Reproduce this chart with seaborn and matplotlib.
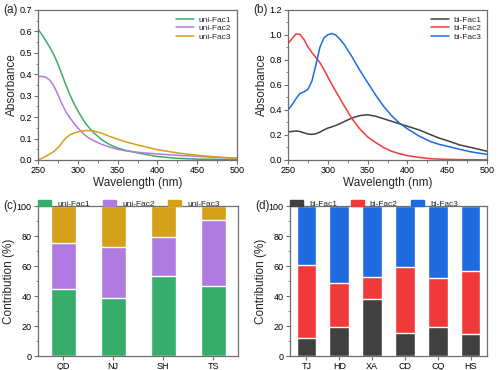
import numpy as np
import pandas as pd
import matplotlib
matplotlib.use("Agg")
import matplotlib.pyplot as plt
from matplotlib.ticker import MultipleLocator, AutoMinorLocator, FormatStrFormatter
import seaborn as sns

# ---- spectra (a) ----
wl_a = [250, 255, 260, 265, 270, 275, 280, 285, 290, 295, 300, 305, 310, 315, 320, 330, 340, 350, 360, 375, 400, 425, 450, 475, 500]
uni_fac1 = [0.61, 0.585, 0.555, 0.525, 0.49, 0.448, 0.40, 0.35, 0.305, 0.265, 0.23, 0.198, 0.17, 0.147, 0.127, 0.095, 0.072, 0.056, 0.045, 0.033, 0.016, 0.008, 0.004, 0.003, 0.002]
uni_fac2 = [0.39, 0.39, 0.386, 0.372, 0.345, 0.305, 0.262, 0.225, 0.197, 0.172, 0.15, 0.13, 0.113, 0.1, 0.09, 0.073, 0.06, 0.05, 0.043, 0.036, 0.028, 0.022, 0.017, 0.012, 0.008]
uni_fac3 = [0.0, 0.008, 0.018, 0.028, 0.04, 0.057, 0.08, 0.103, 0.117, 0.125, 0.131, 0.135, 0.137, 0.137, 0.135, 0.125, 0.11, 0.097, 0.085, 0.07, 0.048, 0.033, 0.022, 0.014, 0.008]

# ---- spectra (b) ----
wl_b = [250, 255, 260, 265, 270, 275, 280, 285, 290, 295, 300, 305, 310, 315, 320, 330, 340, 350, 360, 370, 380, 390, 400, 415, 430, 440, 450, 466, 480, 500]
bi_fac1 = [0.225, 0.228, 0.232, 0.228, 0.217, 0.208, 0.205, 0.21, 0.223, 0.24, 0.255, 0.265, 0.276, 0.29, 0.305, 0.335, 0.355, 0.362, 0.35, 0.33, 0.31, 0.29, 0.27, 0.24, 0.20, 0.175, 0.155, 0.12, 0.10, 0.07]
bi_fac2 = [0.93, 0.97, 1.008, 1.005, 0.965, 0.905, 0.86, 0.82, 0.78, 0.725, 0.665, 0.605, 0.55, 0.495, 0.44, 0.335, 0.25, 0.185, 0.14, 0.10, 0.07, 0.05, 0.035, 0.02, 0.01, 0.007, 0.005, 0.003, 0.002, 0.001]
bi_fac3 = [0.40, 0.44, 0.49, 0.532, 0.545, 0.565, 0.63, 0.76, 0.90, 0.975, 1.002, 1.012, 1.0, 0.968, 0.93, 0.83, 0.72, 0.62, 0.52, 0.43, 0.355, 0.295, 0.25, 0.19, 0.145, 0.125, 0.11, 0.085, 0.065, 0.045]

# ---- contributions (c) ----
sites_c = ["QD", "NJ", "SH", "TS"]
c_fac1 = [45.0, 38.8, 53.4, 47.0]
c_fac2 = [30.6, 33.9, 26.0, 43.7]
c_fac3 = [24.4, 27.3, 20.6, 9.3]

# ---- contributions (d) ----
sites_d = ["TJ", "HD", "XA", "CD", "CQ", "HS"]
d_fac1 = [11.8, 19.5, 37.9, 15.1, 19.5, 14.6]
d_fac2 = [48.7, 29.3, 14.9, 44.1, 32.6, 42.2]
d_fac3 = [39.5, 51.2, 47.2, 40.8, 47.9, 43.2]

green, purple, gold = "#37AD6B", "#B07BE0", "#D4A017"
gray, red, blue = "#404040", "#F03A3A", "#1E6BE0"

sns.set_style("ticks")
plt.rcParams["font.family"] = ["Liberation Sans", "DejaVu Sans"]
plt.rcParams["axes.edgecolor"] = "#6E6E6E"
plt.rcParams["xtick.color"] = "#6E6E6E"
plt.rcParams["ytick.color"] = "#6E6E6E"
plt.rcParams["xtick.labelcolor"] = "black"
plt.rcParams["ytick.labelcolor"] = "black"

fig = plt.figure(figsize=(5, 3.7), dpi=100)
ax_a = fig.add_axes([0.076, 0.5676, 0.398, 0.4054])
ax_b = fig.add_axes([0.576, 0.5676, 0.398, 0.4054])
ax_c = fig.add_axes([0.076, 0.0378, 0.400, 0.4054])
ax_d = fig.add_axes([0.580, 0.0378, 0.394, 0.4054])


def style(ax, ylab):
    for s in ax.spines.values():
        s.set_visible(True)
        s.set_linewidth(0.9)
    ax.tick_params(which="major", length=3, width=0.8, labelsize=6.5, pad=1.5)
    ax.tick_params(which="minor", length=1.8, width=0.6)
    ax.set_ylabel(ylab, fontsize=8.5, labelpad=1)


def spectra(ax, wl, series, labels, colors, ymax, ystep):
    rows = []
    for vals, lab in zip(series, labels):
        rows += [{"wl": w, "abs": v, "fac": lab} for w, v in zip(wl, vals)]
    df = pd.DataFrame(rows)
    sns.lineplot(data=df, x="wl", y="abs", hue="fac", palette=colors, ax=ax, lw=1.1)
    ax.set_xlim(250, 500)
    ax.set_ylim(0, ymax)
    ax.xaxis.set_major_locator(MultipleLocator(50))
    ax.yaxis.set_major_locator(MultipleLocator(ystep))
    ax.xaxis.set_minor_locator(AutoMinorLocator(2))
    ax.yaxis.set_minor_locator(AutoMinorLocator(2))
    ax.yaxis.set_major_formatter(FormatStrFormatter("%.1f"))
    ax.set_xlabel("Wavelength (nm)", fontsize=8.5, labelpad=1)
    style(ax, "Absorbance")
    ax.legend(loc="upper right", frameon=False, fontsize=6, handlelength=2.2,
              labelspacing=0.1, borderaxespad=0.3, handletextpad=0.5)


spectra(ax_a, wl_a, [uni_fac1, uni_fac2, uni_fac3], ["uni-Fac1", "uni-Fac2", "uni-Fac3"],
        [green, purple, gold], 0.7, 0.1)
spectra(ax_b, wl_b, [bi_fac1, bi_fac2, bi_fac3], ["bi-Fac1", "bi-Fac2", "bi-Fac3"],
        [gray, red, blue], 1.2, 0.2)


def stacked(ax, sites, f1, f2, f3, labels, colors, width):
    f1, f2, f3 = np.array(f1), np.array(f2), np.array(f3)
    tops = [f1 + f2 + f3, f1 + f2, f1]
    for t, col in zip(tops, colors[::-1]):
        sns.barplot(x=sites, y=t, color=col, width=width, ax=ax, saturation=1)
    ax.set_ylim(0, 100)
    ax.set_xlim(-0.5, len(sites) - 0.5)
    ax.yaxis.set_major_locator(MultipleLocator(20))
    ax.yaxis.set_minor_locator(AutoMinorLocator(2))
    style(ax, "Contribution (%)")
    ax.tick_params(axis="x", which="minor", length=0)
    handles = [matplotlib.patches.Patch(color=c) for c in colors]
    ax.legend(handles, labels, loc="lower left", bbox_to_anchor=(0.0, 0.99), ncol=3,
              frameon=False, fontsize=6, handlelength=1.6, handleheight=0.7,
              columnspacing=1.6, handletextpad=0.7, borderaxespad=0, borderpad=0)


stacked(ax_c, sites_c, c_fac1, c_fac2, c_fac3, ["uni-Fac1", "uni-Fac2", "uni-Fac3"],
        [green, purple, gold], 0.5)
stacked(ax_d, sites_d, d_fac1, d_fac2, d_fac3, ["bi-Fac1", "bi-Fac2", "bi-Fac3"],
        [gray, red, blue], 0.6)

for ax, lab in zip([ax_a, ax_b, ax_c, ax_d], ["(a)", "(b)", "(c)", "(d)"]):
    ax.text(-0.175, 1.0, lab, transform=ax.transAxes, fontsize=8.5, ha="left", va="center")

fig.savefig("out.png", dpi=100)
